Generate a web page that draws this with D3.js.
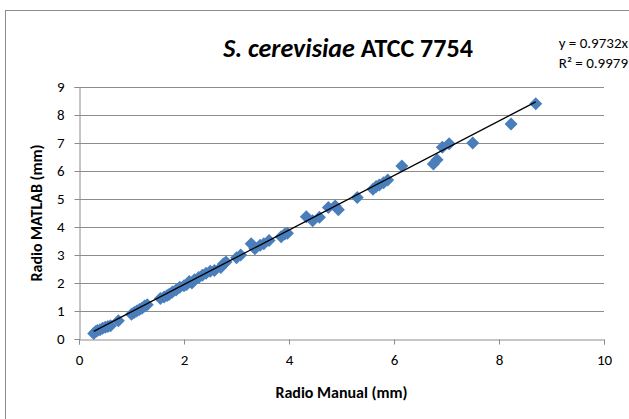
<!DOCTYPE html>
<html>
<head>
<meta charset="utf-8">
<script src="https://cdn.jsdelivr.net/npm/d3@7"></script>
<style>
  body { margin: 0; background: #fff; }
  svg text { font-family: Carlito, "Liberation Sans Narrow", "DejaVu Sans Condensed", sans-serif; fill: #000; }
</style>
</head>
<body>
<div id="chart"></div>
<script>
const width = 629;
const height = 419;

// radius measured by hand (mm)
const manual = [0.28, 0.32, 0.35, 0.40, 0.45, 0.50, 0.55, 0.60, 0.75,
  1.00, 1.05, 1.10, 1.15, 1.20, 1.25, 1.30,
  1.55, 1.62, 1.68, 1.72, 1.78, 1.85, 1.92, 2.00, 2.05, 2.10, 2.15, 2.20,
  2.28, 2.35, 2.42, 2.50, 2.58, 2.70, 2.75, 2.80, 3.00, 3.08,
  3.28, 3.35, 3.45, 3.52, 3.62, 3.85, 3.92, 3.97,
  4.33, 4.45, 4.58, 4.75, 4.88, 4.94, 5.30,
  5.60, 5.66, 5.72, 5.80, 5.88, 6.15, 6.75, 6.82, 6.92, 7.05, 7.50, 8.23, 8.70];
// radius from MATLAB (mm)
const matlab = [0.20, 0.27, 0.30, 0.33, 0.38, 0.42, 0.45, 0.47, 0.65,
  0.88, 0.95, 1.00, 1.05, 1.10, 1.18, 1.22,
  1.45, 1.50, 1.55, 1.60, 1.68, 1.75, 1.85, 1.90, 1.95, 2.05, 2.00, 2.12,
  2.20, 2.28, 2.35, 2.42, 2.45, 2.55, 2.68, 2.75, 2.90, 3.00,
  3.40, 3.22, 3.35, 3.40, 3.52, 3.65, 3.75, 3.78,
  4.37, 4.22, 4.35, 4.70, 4.75, 4.62, 5.05,
  5.35, 5.45, 5.50, 5.58, 5.68, 6.18, 6.25, 6.40, 6.85, 6.97, 7.00, 7.68, 8.40];

const slope = 0.9732;
const xTicks = [0, 2, 4, 6, 8, 10];
const yTicks = [0, 1, 2, 3, 4, 5, 6, 7, 8, 9];

const points = manual.map((m, i) => ({x: m, y: matlab[i]}));

const margin = {top: 87, right: 25, bottom: 80, left: 79};

const svg = d3.select("#chart")
  .append("svg")
  .attr("width", width)
  .attr("height", height);

// chart frame
svg.append("rect")
  .attr("x", 5.5).attr("y", 10.5)
  .attr("width", 640).attr("height", 420)
  .attr("fill", "none")
  .attr("stroke", "#8c8c8c");

const x = d3.scaleLinear().domain([0, 10]).range([margin.left, width - margin.right]);
const y = d3.scaleLinear().domain([0, 9]).range([height - margin.bottom, margin.top]);

// gridlines
svg.append("g")
  .selectAll("line")
  .data(yTicks.filter(d => d > 0))
  .join("line")
  .attr("x1", x(0)).attr("x2", x(10))
  .attr("y1", d => Math.round(y(d)) + 0.5)
  .attr("y2", d => Math.round(y(d)) + 0.5)
  .attr("stroke", "#8c8c8c");

const xAxis = svg.append("g")
  .attr("transform", `translate(0,${Math.round(y(0)) + 0.5})`)
  .call(d3.axisBottom(x).tickValues(xTicks).tickSize(5).tickPadding(10));

const yAxis = svg.append("g")
  .attr("transform", `translate(${Math.round(x(0)) + 0.5},0)`)
  .call(d3.axisLeft(y).tickValues(yTicks).tickSize(5).tickPadding(10));

[xAxis, yAxis].forEach(a => {
  a.select(".domain").attr("stroke", "#8c8c8c");
  a.selectAll(".tick line").attr("stroke", "#8c8c8c");
  a.selectAll(".tick text").style("font-size", "15px").attr("fill", "#000");
});

// markers
const diamond = "M0,-6.5L6.5,0L0,6.5L-6.5,0Z";
svg.append("g")
  .selectAll("path")
  .data(points)
  .join("path")
  .attr("d", diamond)
  .attr("transform", d => `translate(${x(d.x)},${y(d.y)})`)
  .attr("fill", "#4a7ebb");

// linear trendline through origin
const xmin = d3.min(manual), xmax = d3.max(manual);
svg.append("line")
  .attr("x1", x(xmin)).attr("y1", y(slope * xmin))
  .attr("x2", x(xmax)).attr("y2", y(slope * xmax))
  .attr("stroke", "#000")
  .attr("stroke-width", 1.3);

// title
const title = svg.append("text")
  .attr("x", 348).attr("y", 57)
  .attr("text-anchor", "middle")
  .style("font-size", "26px")
  .style("font-weight", "bold");
title.append("tspan").style("font-style", "italic").text("S. cerevisiae");
title.append("tspan").text(" ATCC 7754");

// trendline equation
svg.append("text")
  .attr("x", 628).attr("y", 48)
  .attr("text-anchor", "end")
  .style("font-size", "15px")
  .text("y = 0.9732x");
svg.append("text")
  .attr("x", 628).attr("y", 68)
  .attr("text-anchor", "end")
  .style("font-size", "15px")
  .text("R² = 0.9979");

// axis titles
svg.append("text")
  .attr("x", (x(0) + x(10)) / 2).attr("y", 398)
  .attr("text-anchor", "middle")
  .style("font-size", "16px")
  .style("font-weight", "bold")
  .text("Radio Manual (mm)");

svg.append("text")
  .attr("transform", `translate(42,${(y(0) + y(9)) / 2}) rotate(-90)`)
  .attr("text-anchor", "middle")
  .style("font-size", "16px")
  .style("font-weight", "bold")
  .text("Radio MATLAB (mm)");
</script>
</body>
</html>
